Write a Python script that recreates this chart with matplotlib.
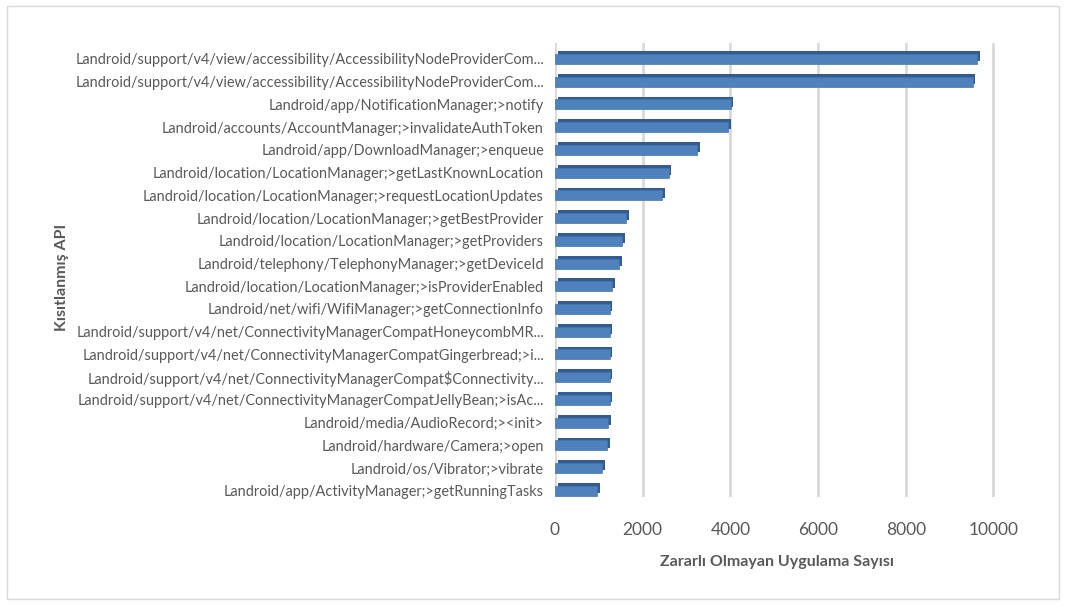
import matplotlib.pyplot as plt
from matplotlib import patheffects as pe
from matplotlib.patches import Rectangle

apis = [
    'Landroid/support/v4/view/accessibility/AccessibilityNodeProviderCom...',
    'Landroid/support/v4/view/accessibility/AccessibilityNodeProviderCom...',
    'Landroid/app/NotificationManager;>notify',
    'Landroid/accounts/AccountManager;>invalidateAuthToken',
    'Landroid/app/DownloadManager;>enqueue',
    'Landroid/location/LocationManager;>getLastKnownLocation',
    'Landroid/location/LocationManager;>requestLocationUpdates',
    'Landroid/location/LocationManager;>getBestProvider',
    'Landroid/location/LocationManager;>getProviders',
    'Landroid/telephony/TelephonyManager;>getDeviceId',
    'Landroid/location/LocationManager;>isProviderEnabled',
    'Landroid/net/wifi/WifiManager;>getConnectionInfo',
    'Landroid/support/v4/net/ConnectivityManagerCompatHoneycombMR...',
    'Landroid/support/v4/net/ConnectivityManagerCompatGingerbread;>i...',
    'Landroid/support/v4/net/ConnectivityManagerCompat$Connectivity...',
    'Landroid/support/v4/net/ConnectivityManagerCompatJellyBean;>isAc...',
    'Landroid/media/AudioRecord;><init>',
    'Landroid/hardware/Camera;>open',
    'Landroid/os/Vibrator;>vibrate',
    'Landroid/app/ActivityManager;>getRunningTasks',
]
counts = [9630, 9530, 4010, 3950, 3240, 2600, 2450, 1620, 1530, 1460,
          1310, 1250, 1250, 1250, 1250, 1250, 1210, 1190, 1080, 960]
xticks = [0, 2000, 4000, 6000, 8000, 10000]

plt.rcParams['font.family'] = ['Lato', 'DejaVu Sans']
gray = '#595959'

fig = plt.figure(figsize=(10.66, 6.06), dpi=100)
# outer chart border
fig.patches.append(Rectangle((0.007, 0.012), 0.986, 0.978, transform=fig.transFigure,
                             fill=False, edgecolor='#D9D9D9', linewidth=1))

ax = fig.add_axes([555 / 1066, 1 - 497 / 606, 445 / 1066, 454 / 606])
pos = list(range(len(apis)))[::-1]
bars = ax.barh(pos, counts, height=0.44, color='#4F81BD', edgecolor='#4575B0',
               linewidth=0.5, zorder=3)
for b in bars:
    b.set_path_effects([pe.SimplePatchShadow(offset=(1.8, 2.0), shadow_rgbFace='#355C8F', alpha=1.0),
                        pe.Normal()])

ax.set_xlim(0, 10150)
ax.set_ylim(-0.27, len(apis) - 0.3)
ax.set_xticks(xticks)
ax.set_xticklabels([str(t) for t in xticks], fontsize=12.5, color=gray)
ax.set_yticks(pos)
ax.set_yticklabels(apis, fontsize=10.45, color=gray)
ax.tick_params(length=0)
ax.tick_params(axis='x', pad=18)
ax.tick_params(axis='y', pad=8)
ax.grid(axis='x', color='#D9D9D9', linewidth=2, zorder=0)
for s in ax.spines.values():
    s.set_visible(False)

ax.set_xlabel('Zararlı Olmayan Uygulama Sayısı', fontsize=11.5, fontweight='bold',
              color=gray, labelpad=12)
fig.text(62 / 1066, 1 - 277 / 606, 'Kısıtlanmış API', rotation=90, fontsize=11.5,
         fontweight='bold', color=gray, ha='center', va='center')

fig.savefig('out.png', dpi=100)
